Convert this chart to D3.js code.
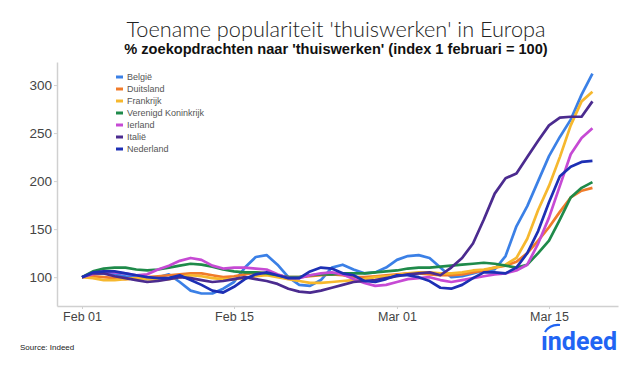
<!DOCTYPE html>
<html>
<head>
<meta charset="utf-8">
<script src="https://cdn.jsdelivr.net/npm/d3@7"></script>
<style>
  body { margin: 0; background: #fff; }
  svg { font-family: "Liberation Sans", Arial, sans-serif; }
  .axis path, .axis line { stroke: #d0d0d0; }
  .axis text { fill: #444; }
</style>
</head>
<body>
<script>
// daily points, 1 feb - 19 mrt 2020
var dates = d3.timeDays(new Date(2020, 1, 1), new Date(2020, 2, 20))

var names = ['België', 'Duitsland', 'Frankrijk', 'Verenigd Koninkrijk', 'Ierland', 'Italië', 'Nederland']
var colors = ['#3b80e6', '#f07b2a', '#f6b82e', '#1f8a4a', '#c64ad4', '#4b2b8f', '#1d2fb4']

var belgie = [100,103,104,103,101,100,98,100,103,95,86,83,83,88,95,110,121,123,113,100,92,91,97,110,113,108,104,105,110,118,122,123,120,110,100,101,104,107,108,122,153,174,200,226,246,264,290,312]
var duitsland = [100,101,100,99,98,99,100,101,102,103,104,104,102,100,101,103,105,104,102,100,100,101,102,103,102,100,100,101,102,103,104,104,103,102,102,103,105,107,110,112,116,125,138,152,168,183,190,193]
var frankrijk = [100,99,97,97,98,99,98,97,98,100,102,101,99,98,98,99,101,102,100,98,96,94,94,95,96,97,98,100,101,102,104,105,105,104,104,105,107,108,110,113,120,140,170,195,225,258,283,293]
var vk = [100,106,109,110,110,108,107,108,110,112,114,113,111,108,106,105,105,104,102,100,100,102,103,103,104,104,104,105,106,107,109,110,110,111,112,113,114,115,114,112,110,113,125,138,160,183,193,199]
var ierland = [100,103,106,105,104,102,103,108,112,117,120,118,112,109,110,110,109,108,103,99,99,102,104,105,103,98,94,91,92,95,98,99,100,97,95,97,99,101,103,104,107,113,135,162,195,228,245,255]
var italie = [100,104,104,101,99,97,95,96,98,100,99,97,95,96,98,100,98,96,93,88,85,84,86,89,92,95,96,97,99,101,103,104,105,102,110,120,135,160,187,203,208,225,242,258,266,267,267,283]
var nederland = [100,105,106,106,104,102,100,99,99,102,97,92,86,84,90,98,103,105,102,99,99,106,110,109,104,102,96,95,98,102,102,100,96,89,88,92,99,105,105,104,110,125,148,178,205,215,220,221]

var seriesValues = [belgie, duitsland, frankrijk, vk, ierland, italie, nederland]

var xTicks = [new Date(2020, 1, 1), new Date(2020, 1, 15), new Date(2020, 2, 1), new Date(2020, 2, 15)]
var yTicks = [100, 150, 200, 250, 300]

var width = 640
var height = 370

var svg = d3.select('body').append('svg').attr('width', width).attr('height', height)

// x: feb 01 -> 82px, mar 15 -> 549px, then widen to the axis ends
var x = d3.scaleTime().domain([xTicks[0], xTicks[3]]).range([82, 549])
x.domain([x.invert(57), x.invert(618)]).range([57, 618])

var y = d3.scaleLinear().domain([70, 324]).range([306, 62])

// titles
svg.append('text').attr('x', 336).attr('y', 37).attr('text-anchor', 'middle')
    .style('font-family', 'Lato, Roboto, sans-serif').style('font-weight', 300)
    .style('font-size', '21.7px').attr('fill', '#222')
    .text("Toename populariteit 'thuiswerken' in Europa")
svg.append('text').attr('x', 336).attr('y', 54).attr('text-anchor', 'middle')
    .style('font-weight', 'bold').style('font-size', '14.6px').attr('fill', '#111')
    .text("% zoekopdrachten naar 'thuiswerken' (index 1 februari = 100)")

// axes
var xAxis = d3.axisBottom(x).tickValues(xTicks).tickFormat(d3.timeFormat('%b %d')).tickSize(3).tickSizeOuter(0)
var yAxis = d3.axisLeft(y).tickValues(yTicks).tickSize(3).tickSizeOuter(0)

var gx = svg.append('g').attr('class', 'axis').attr('transform', 'translate(0,306)').call(xAxis)
gx.selectAll('text').style('font-size', '12.5px').attr('dy', '0.75em')
gx.select('.domain').attr('stroke-width', 1.5)

var gy = svg.append('g').attr('class', 'axis').attr('transform', 'translate(57,0)').call(yAxis)
gy.selectAll('text').style('font-size', '13.5px').attr('x', -5)
gy.select('.domain').attr('stroke-width', 1.5)

// lines
var line = d3.line()
    .x((d, i) => x(dates[i]))
    .y(d => y(d))

svg.append('g').selectAll('path')
    .data(seriesValues)
    .join('path')
    .attr('d', d => line(d))
    .attr('fill', 'none')
    .attr('stroke', (d, i) => colors[i])
    .attr('stroke-width', 2.7)
    .attr('stroke-linejoin', 'round')

// legend
var legend = svg.append('g').attr('transform', 'translate(116,77)')
var item = legend.selectAll('g').data(names).join('g')
    .attr('transform', (d, i) => `translate(0, ${i * 12})`)
item.append('line').attr('x1', 0).attr('x2', 7).attr('stroke', (d, i) => colors[i]).attr('stroke-width', 3)
item.append('text').attr('x', 11).attr('dy', '0.35em').style('font-size', '9px').attr('fill', '#555').text(d => d)

// footer
svg.append('text').attr('x', 20).attr('y', 350).style('font-size', '8px').attr('fill', '#222').text('Source: Indeed')

svg.append('text').attr('x', 617).attr('y', 350).attr('text-anchor', 'end')
    .style('font-family', 'Roboto, sans-serif').style('font-weight', 'bold').style('font-size', '25px')
    .attr('fill', '#2164f3').text('ındeed')
svg.append('path').attr('d', 'M 545 332 Q 550 324 560 325').attr('fill', 'none').attr('stroke', '#2164f3').attr('stroke-width', 2.2)
</script>
</body>
</html>
